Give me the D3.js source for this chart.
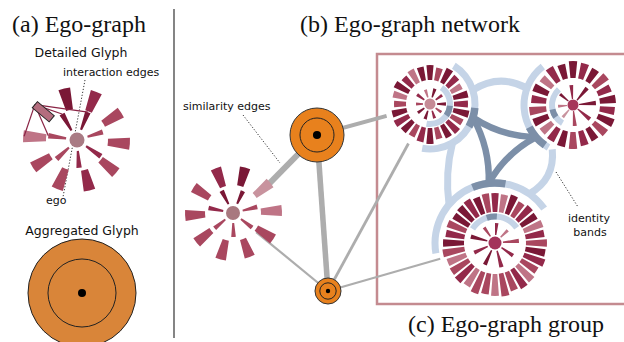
<!DOCTYPE html>
<html>
<head>
<meta charset="utf-8">
<script src="https://cdn.jsdelivr.net/npm/d3@7"></script>
<style>
  body { margin: 0; background: #fff; }
  svg { display: block; }
</style>
</head>
<body>
<svg id="fig" width="624" height="342"></svg>
<script>
// ---------------- data ----------------
// Detailed ego glyph: outer ring (alters) and inner ring (interactions); lengths in px, shade = colour level
const detailOuterLen   = [22, 22, 21, 21, 22, 20, 21, 22, 21, 23];
const detailOuterShade = [3, 0, 1, 2, 2, 2, 1, 2, 2, 3];
const detailInnerLen   = [19, 19, 16, 18, 17, 17, 18];
const detailInnerShade = [0, 0, 2, 1, 1, 2, 2];
// interaction edges leave the highlighted alter (outer bar 0)
const interactionTargets = [["outer", 9], ["inner", 6], ["inner", 0], ["inner", 1]];

// ego-graph in the network view
const egoOuterLen   = [19, 20, 19, 20, 21, 20, 19, 20, 19, 20];
const egoOuterShade = [2, 1, 0, 4, 3, 2, 2, 2, 2, 2];
const egoInnerLen   = [15, 14, 15, 14, 14, 14, 15];
const egoInnerShade = [0, 0, 2, 2, 2, 2, 1];

// ego-graph group members
const g1OuterLen   = [15, 13, 16, 14, 12, 15, 14, 16, 13, 15, 14, 12, 16, 15, 13, 14, 16, 15, 12, 14, 16, 13, 15, 14];
const g1OuterShade = [0, 2, 0, 1, 3, 0, 1, 0, 2, 1, 0, 2, 0, 1, 2, 0, 1, 0, 2, 3, 0, 1, 3, 0];
const g1InnerLen   = [9, 8, 9, 7, 8, 9, 8, 7, 9, 8];
const g1InnerShade = [0, 1, 0, 2, 1, 0, 0, 2, 1, 3];

const g2OuterLen   = [17, 16, 15, 17, 14, 16, 15, 17, 16, 14, 15, 17, 16, 15, 14, 16, 17, 15, 16, 14, 17, 15];
const g2OuterShade = [0, 1, 0, 2, 1, 0, 1, 0, 2, 0, 1, 2, 0, 1, 3, 0, 2, 1, 0, 3, 1, 0];
const g2InnerLen   = [11, 14, 16, 17, 16, 15, 10, 9];
const g2InnerShade = [0, 1, 0, 0, 1, 2, 4, 3];

const g3OuterLen   = [19, 18, 20, 17, 19, 18, 20, 19, 21, 20, 22, 19, 21, 22, 20, 23,
                      22, 21, 23, 20, 22, 21, 20, 22, 21, 19, 20, 18, 19, 20, 18, 19];
const g3OuterShade = [1, 3, 0, 2, 1, 0, 3, 1, 2, 0, 1, 2, 3, 1, 2, 2,
                      3, 2, 2, 3, 1, 2, 3, 2, 0, 1, 2, 0, 0, 1, 0, 2];
const g3InnerLen   = [16, 14, 17, 16, 15, 17, 11, 12, 10];
const g3InnerShade = [2, 1, 1, 0, 1, 0, 2, 1, 3];

// aggregated glyphs (number of ego-graphs folded into each)
const aggregateIds   = ["N1", "N2"];
const aggregateCount = [43, 10];

// similarity edges between ego-graphs / aggregates
const simSource = ["N1", "N1", "N1", "N2", "N2", "N2"];
const simTarget = ["G0", "N2", "G1", "G0", "G1", "G3"];
const simValue  = [0.92, 0.85, 0.62, 0.34, 0.43, 0.34];

// ---------------- drawing ----------------
const svg = d3.select("#fig");
const rad = d => d * Math.PI / 180;
const polar = (cx, cy, deg, r) => [cx + r * Math.cos(rad(deg)), cy + r * Math.sin(rad(deg))];

const shadeColor = d3.scaleOrdinal().domain([0, 1, 2, 3, 4])
  .range(["#7a1836", "#93294a", "#a9475f", "#bf7486", "#c8939e"]);
const SERIF = "'Liberation Serif', 'Times New Roman', serif";
const SANS = "'DejaVu Sans', sans-serif";
const LIGHT = "#c5d4e7", DARK = "#7c8fa8", GRAY = "#adadad";

// radial bar ring; angles in screen degrees (0 = east, clockwise)
function ring(g, cx, cy, lens, shades, r0, start, step, width, skip) {
  const arc = d3.arc();
  g.append("g").attr("transform", `translate(${cx},${cy})`)
    .selectAll("path")
    .data(lens.map((len, i) => ({ len, i })).filter(d => !(skip && skip.includes(d.i))))
    .join("path")
    .attr("d", d => {
      const a = rad(start + d.i * step + 90), w = rad(width) / 2;
      return arc({ innerRadius: r0, outerRadius: r0 + d.len, startAngle: a - w, endAngle: a + w });
    })
    .attr("fill", d => shadeColor(shades[d.i]));
}

function band(g, cx, cy, r, a0, a1, color, thick) {
  g.append("path")
    .attr("transform", `translate(${cx},${cy})`)
    .attr("d", d3.arc()({ innerRadius: r - thick / 2, outerRadius: r + thick / 2,
                          startAngle: rad(a0 + 90), endAngle: rad(a1 + 90) }))
    .attr("fill", color);
}

function curve(g, p0, p2, ctrl, color, w) {
  const p = d3.path();
  p.moveTo(p0[0], p0[1]);
  p.quadraticCurveTo(ctrl[0], ctrl[1], p2[0], p2[1]);
  g.append("path").attr("d", p.toString()).attr("fill", "none")
    .attr("stroke", color).attr("stroke-width", w);
}

function leader(x1, y1, x2, y2) {
  svg.append("line").attr("x1", x1).attr("y1", y1).attr("x2", x2).attr("y2", y2)
    .attr("stroke", "#333").attr("stroke-width", 1).attr("stroke-dasharray", "1.2,1.8");
}

function label(x, y, txt, size, family, anchor) {
  svg.append("text").attr("x", x).attr("y", y).attr("font-size", size)
    .attr("font-family", family).attr("text-anchor", anchor || "start")
    .attr("fill", "#111").text(txt);
}

// ---- panel (a) ----
label(12, 32, "(a) Ego-graph", 24, SERIF);
label(81, 57, "Detailed Glyph", 12.5, SANS, "middle");
label(63, 76, "interaction edges", 11, SANS);
leader(85, 80, 63, 197);
label(46, 204, "ego", 11, SANS);

const A = { cx: 77, cy: 140, outR0: 31, inR0: 11, outStart: -140, outStep: 36, inStart: -120, inStep: 360 / 7 };
const gA = svg.append("g");
ring(gA, A.cx, A.cy, detailOuterLen, detailOuterShade, A.outR0, A.outStart, A.outStep, 13, [0]);
ring(gA, A.cx, A.cy, detailInnerLen, detailInnerShade, A.inR0, A.inStart, A.inStep, 11);
// interaction edges from the highlighted alter
const srcPt = polar(A.cx, A.cy, A.outStart, A.outR0 + 2 + detailOuterLen[0]);
interactionTargets.forEach(([ringName, i]) => {
  const pt = ringName === "outer"
    ? polar(A.cx, A.cy, A.outStart + i * A.outStep, A.outR0 + detailOuterLen[i] - 1)
    : polar(A.cx, A.cy, A.inStart + i * A.inStep, A.inR0 + detailInnerLen[i]);
  gA.append("line").attr("x1", srcPt[0]).attr("y1", srcPt[1]).attr("x2", pt[0]).attr("y2", pt[1])
    .attr("stroke", "#8a2445").attr("stroke-width", 1.2);
});
gA.append("rect")
  .attr("x", A.outR0 + 2).attr("y", -4).attr("width", detailOuterLen[0]).attr("height", 8)
  .attr("transform", `translate(${A.cx},${A.cy}) rotate(${A.outStart})`)
  .attr("fill", "#b46d7e").attr("stroke", "#222").attr("stroke-width", 1);
gA.append("circle").attr("cx", A.cx).attr("cy", A.cy).attr("r", 7.5).attr("fill", "#a97b84");

label(82, 235, "Aggregated Glyph", 12.5, SANS, "middle");
const bigR = d3.scaleSqrt().domain([0, 43]).range([0, 54]);
svg.append("circle").attr("cx", 82).attr("cy", 293).attr("r", bigR(43))
  .attr("fill", "#d98539").attr("stroke", "#222").attr("stroke-width", 1);
svg.append("circle").attr("cx", 82).attr("cy", 293).attr("r", bigR(43) * 0.63)
  .attr("fill", "none").attr("stroke", "#222").attr("stroke-width", 1);
svg.append("circle").attr("cx", 82).attr("cy", 293).attr("r", 4).attr("fill", "#000");

// separator
svg.append("line").attr("x1", 174).attr("y1", 9).attr("x2", 174).attr("y2", 338)
  .attr("stroke", "#333").attr("stroke-width", 1.2);

// ---- panel (b) / (c) ----
label(300, 32, "(b) Ego-graph network", 24, SERIF);
label(408, 332, "(c) Ego-graph group", 24, SERIF);

// group frame
svg.append("rect").attr("x", 377).attr("y", 54).attr("width", 270).attr("height", 250)
  .attr("fill", "none").attr("stroke", "#c48b90").attr("stroke-width", 2.5);

const pos = {
  G0: { cx: 233, cy: 213, stop: 30 },
  N1: { cx: 317, cy: 135 },
  N2: { cx: 328, cy: 291 },
  G1: { cx: 430, cy: 104, stop: 45 },
  G2: { cx: 573, cy: 105, stop: 49 },
  G3: { cx: 495, cy: 243, stop: 57 }
};
const nodeR = d3.scaleSqrt().domain([0, 43]).range([0, 27]);
aggregateIds.forEach((id, i) => { pos[id].r = nodeR(aggregateCount[i]); pos[id].stop = 0; });

const G0 = { outR0: 28, inR0: 10, outStart: -147, outStep: 36, inStart: -117, inStep: 360 / 7 };

// similarity edges
const simW = d3.scaleLinear().domain([0, 1]).range([0, 6.5]);
const gEdges = svg.append("g");
simSource.forEach((s, i) => {
  const a = pos[s], b = pos[simTarget[i]];
  let end;
  if (simTarget[i] === "G0" && s === "N1") {
    end = polar(b.cx, b.cy, G0.outStart + 3 * G0.outStep, G0.outR0 + egoOuterLen[3] - 2);
  } else {
    const dx = a.cx - b.cx, dy = a.cy - b.cy, L = Math.hypot(dx, dy);
    end = [b.cx + dx / L * b.stop, b.cy + dy / L * b.stop];
  }
  gEdges.append("line").attr("x1", a.cx).attr("y1", a.cy).attr("x2", end[0]).attr("y2", end[1])
    .attr("stroke", GRAY).attr("stroke-width", simW(simValue[i]));
});

label(183, 110, "similarity edges", 11, SANS);
leader(243, 115, 280, 163);

// ego-graph glyph in the network
const gB = svg.append("g");
ring(gB, pos.G0.cx, pos.G0.cy, egoOuterLen, egoOuterShade, G0.outR0, G0.outStart, G0.outStep, 13);
ring(gB, pos.G0.cx, pos.G0.cy, egoInnerLen, egoInnerShade, G0.inR0, G0.inStart, G0.inStep, 11);
gB.append("circle").attr("cx", pos.G0.cx).attr("cy", pos.G0.cy).attr("r", 7).attr("fill", "#a8787f");

// aggregated nodes
aggregateIds.forEach(id => {
  const n = pos[id];
  svg.append("circle").attr("cx", n.cx).attr("cy", n.cy).attr("r", n.r)
    .attr("fill", "#e8811d").attr("stroke", "#333").attr("stroke-width", 1);
  svg.append("circle").attr("cx", n.cx).attr("cy", n.cy).attr("r", n.r * 0.63)
    .attr("fill", "none").attr("stroke", "#222").attr("stroke-width", 1);
  svg.append("circle").attr("cx", n.cx).attr("cy", n.cy).attr("r", Math.max(2.2, n.r * 0.15)).attr("fill", "#000");
});

// ---- identity bands of the group ----
const grp = {
  G1: { rIn: 20, inSpan: [-55, 100], inDark: [5, 35], rOut: 45, outSpan: [-58, 100], outDark: [5, 30], vtx: 17.5 },
  G2: { rIn: 21, inSpan: [120, 228], inDark: [145, 168], rOut: 49, outSpan: [120, 232], outDark: [125, 153], vtx: 139 },
  G3: { rIn: 26.5, inSpan: [-148, -35], inDark: [-108, -86], rOut: 60, outSpan: [-190, -35], outDark: [-112, -80], vtx: -96 }
};
const gBand = svg.append("g");
Object.keys(grp).forEach(k => {
  const c = pos[k], b = grp[k];
  band(gBand, c.cx, c.cy, b.rIn, b.inSpan[0], b.inSpan[1], LIGHT, 6);
  band(gBand, c.cx, c.cy, b.rOut, b.outSpan[0], b.outSpan[1], LIGHT, 7);
});
const P = (k, deg) => polar(pos[k].cx, pos[k].cy, deg, grp[k].rOut);
const bowCtrl = (p0, p2, bow) => {
  const mx = (p0[0] + p2[0]) / 2, my = (p0[1] + p2[1]) / 2;
  const dx = p2[0] - p0[0], dy = p2[1] - p0[1], L = Math.hypot(dx, dy);
  return [mx + dy / L * 2 * bow, my - dx / L * 2 * bow];
};
[[P("G1", -18), P("G2", 200), 8], [P("G1", 60), P("G3", -140), -3], [P("G2", 115), P("G3", -55), 8]]
  .forEach(([p0, p2, bow]) => curve(gBand, p0, p2, bowCtrl(p0, p2, bow), LIGHT, 7));

// shared-identity (dark) links
const V = Object.keys(grp).map(k => P(k, grp[k].vtx));
const cen = [d3.mean(V, v => v[0]), d3.mean(V, v => v[1])];
[[0, 1], [0, 2], [1, 2]].forEach(([i, j]) => {
  const mx = (V[i][0] + V[j][0]) / 2, my = (V[i][1] + V[j][1]) / 2;
  curve(gBand, V[i], V[j], [mx + 0.5 * (cen[0] - mx), my + 0.5 * (cen[1] - my)], DARK, 6.5);
});
Object.keys(grp).forEach(k => {
  const c = pos[k], b = grp[k];
  band(gBand, c.cx, c.cy, b.rIn, b.inDark[0], b.inDark[1], DARK, 6);
  band(gBand, c.cx, c.cy, b.rOut, b.outDark[0], b.outDark[1], DARK, 7.5);
});

// group glyphs
const gC = svg.append("g");
ring(gC, pos.G1.cx, pos.G1.cy, g1OuterLen, g1OuterShade, 24, -90, 15, 10.5);
ring(gC, pos.G1.cx, pos.G1.cy, g1InnerLen, g1InnerShade, 7, -72, 36, 12);
ring(gC, pos.G2.cx, pos.G2.cy, g2OuterLen, g2OuterShade, 27, -90, 360 / 22, 11);
ring(gC, pos.G2.cx, pos.G2.cy, g2InnerLen, g2InnerShade, 6, -140, 45, 11);
ring(gC, pos.G3.cx, pos.G3.cy, g3OuterLen, g3OuterShade, 31, -90, 11.25, 8.5);
ring(gC, pos.G3.cx, pos.G3.cy, g3InnerLen, g3InnerShade, 8, -5, 40, 10);
[["G1", 5.5, "#c68b96"], ["G2", 5.5, "#a6375a"], ["G3", 6.5, "#a3335a"]].forEach(([k, r, col]) =>
  gC.append("circle").attr("cx", pos[k].cx).attr("cy", pos[k].cy).attr("r", r).attr("fill", col));

label(589, 222, "identity", 11, SANS, "middle");
label(590, 236, "bands", 11, SANS, "middle");
leader(556, 172, 578, 207);
</script>
</body>
</html>
